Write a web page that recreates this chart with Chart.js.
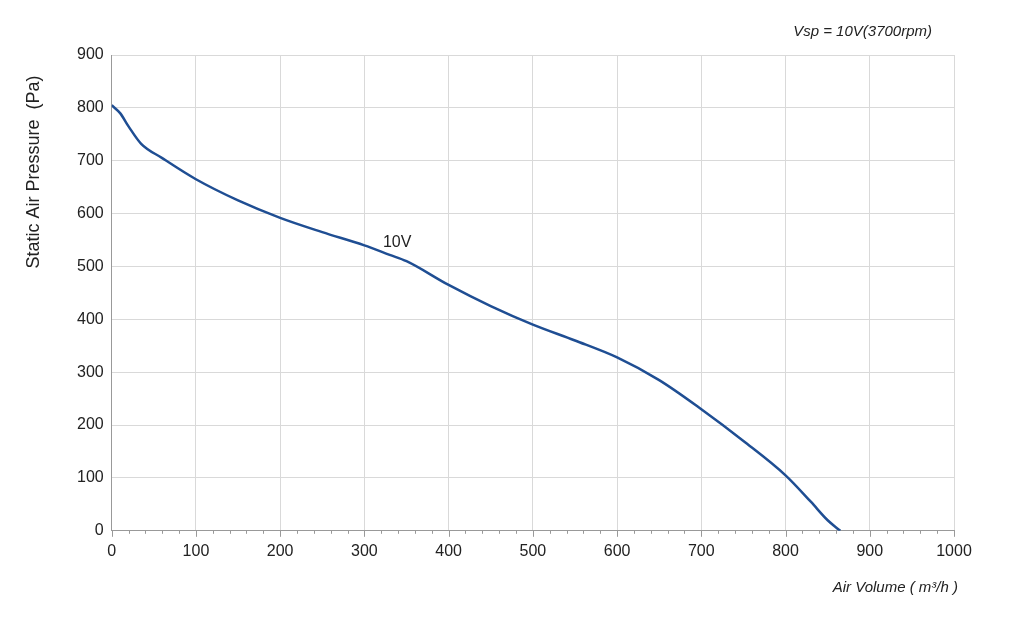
<!DOCTYPE html>
<html><head><meta charset="utf-8">
<script src="https://cdn.jsdelivr.net/npm/chart.js@4/dist/chart.umd.min.js"></script>
<style>html,body{margin:0;background:#fff}#w{width:1024px;height:622px}</style>
</head><body><div id="w"><canvas id="c"></canvas></div>
<script>
const airVolume = [0,10,20,35,60,100,150,200,250,300,330,350,400,450,500,550,600,650,700,750,800,830,850,865];
const pressure10V = [805,790,765,732,705,665,625,592,565,540,522,510,465,425,390,360,328,285,230,170,105,55,20,0];
const seriesLabel = "10V";
const title = "Vsp = 10V(3700rpm)";
const xTitle = "Air Volume ( m³/h )";
const yTitle = "Static Air Pressure  (Pa)";

const textPlugin = {
  id: 'txt',
  afterDraw(chart) {
    const {ctx, scales:{x,y}, chartArea} = chart;
    ctx.save();
    ctx.fillStyle = '#222';
    ctx.font = 'italic 15px "Liberation Sans", Arial';
    ctx.textAlign = 'right'; ctx.textBaseline = 'middle';
    ctx.fillText(title, 932, 32);
    ctx.fillText(xTitle, 958, 588);
    ctx.font = '16px "Liberation Sans", Arial';
    ctx.textAlign = 'left';
    ctx.fillText(seriesLabel, x.getPixelForValue(322), y.getPixelForValue(545));
    ctx.save();
    ctx.translate(34, 172); ctx.rotate(-Math.PI/2);
    ctx.textAlign = 'center'; ctx.font = '18px "Liberation Sans", Arial';
    ctx.fillText(yTitle, 0, 0);
    ctx.restore();
    ctx.strokeStyle = '#999'; ctx.lineWidth = 1;
    for (let v = 0; v <= 1000; v += 20) {
      const px = Math.round(x.getPixelForValue(v)) + 0.5;
      ctx.beginPath(); ctx.moveTo(px, chartArea.bottom); ctx.lineTo(px, chartArea.bottom + (v % 100 ? 3 : 6)); ctx.stroke();
    }
    ctx.restore();
  }
};

new Chart(document.getElementById('c'), {
  type: 'line',
  data: { datasets: [{ label: seriesLabel, data: airVolume.map((v,i)=>({x:v,y:pressure10V[i]})),
    borderColor: '#1f4e93', borderWidth: 2.5, pointRadius: 0, cubicInterpolationMode: 'monotone', fill: false }] },
  options: {
    responsive: true, maintainAspectRatio: false, animation: false,
    layout: { padding: { left: 69, right: 70, top: 55, bottom: 50 } },
    plugins: { legend: { display: false }, tooltip: { enabled: false } },
    scales: {
      x: { type: 'linear', min: 0, max: 1000,
        ticks: { stepSize: 100, padding: 11, callback: v => String(v), color: '#222', font: { size: 16, family: '"Liberation Sans", Arial' } },
        grid: { color: '#d9d9d9', tickLength: 0 }, border: { color: '#999' } },
      y: { min: 0, max: 900,
        ticks: { stepSize: 100, color: '#222', padding: 8, font: { size: 16, family: '"Liberation Sans", Arial' } },
        grid: { color: '#d9d9d9', tickLength: 0 }, border: { color: '#999' } }
    }
  },
  plugins: [textPlugin]
});
</script></body></html>
